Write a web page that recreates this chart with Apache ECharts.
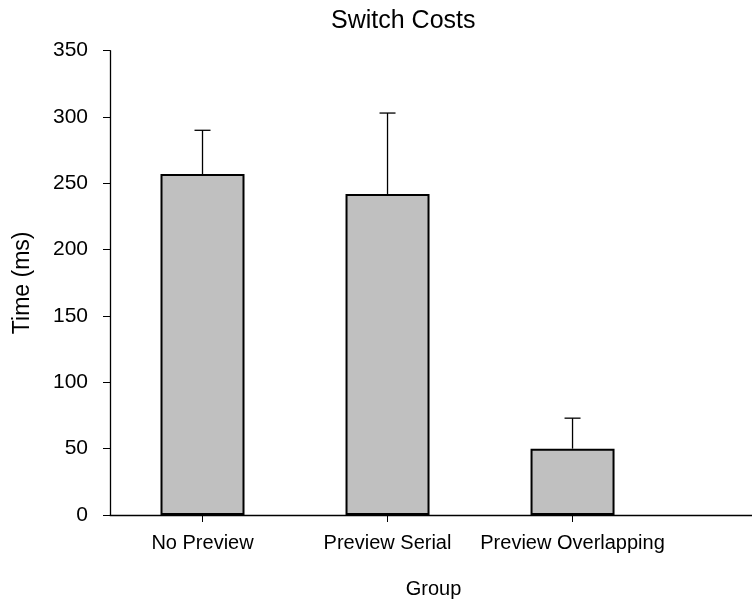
<!DOCTYPE html>
<html>
<head>
<meta charset="utf-8">
<script src="https://cdn.jsdelivr.net/npm/echarts@6/dist/echarts.min.js"></script>
<style>
html,body{margin:0;padding:0;background:#fff;}
#chart{width:752px;height:604px;}
</style>
</head>
<body>
<div id="chart"></div>
<script>
var categories = ['No Preview', 'Preview Serial', 'Preview Overlapping'];
var meanValues = [257, 242, 50];
var errorValues = [33, 61, 23];
var yTicks = [0, 50, 100, 150, 200, 250, 300, 350];

var positions = categories.map(function (c, i) { return i + 1; });
var barData = positions.map(function (p, i) { return [p, meanValues[i]]; });
var errData = positions.map(function (p, i) { return [p, meanValues[i], meanValues[i] + errorValues[i]]; });

var FONT = '"Liberation Sans", Arial, sans-serif';
var chart = echarts.init(document.getElementById('chart'), null, {renderer: 'canvas'});
chart.setOption({
  backgroundColor: '#ffffff',
  animation: false,
  title: {
    text: 'Switch Costs',
    left: 326,
    top: 4,
    textStyle: {fontFamily: FONT, fontSize: 25, fontWeight: 'normal', color: '#000'}
  },
  grid: {left: 110, right: 0, top: 50.7, bottom: 87.3, containLabel: false},
  xAxis: {
    type: 'value',
    min: 0.5,
    max: 3.97,
    name: 'Group',
    nameLocation: 'middle',
    nameGap: 64,
    nameTextStyle: {fontFamily: FONT, fontSize: 20, color: '#000', padding: [0, 0, 0, 5]},
    splitLine: {show: false},
    axisLine: {show: true, onZero: false, lineStyle: {color: '#000', width: 1.3}},
    axisTick: {show: true, inside: false, length: 7, customValues: positions, lineStyle: {color: '#000', width: 1}},
    axisLabel: {
      customValues: positions,
      margin: 18,
      fontFamily: FONT, fontSize: 20, color: '#000',
      formatter: function (v) { return categories[Math.round(v) - 1] || ''; }
    }
  },
  yAxis: {
    type: 'value',
    min: 0,
    max: 350,
    interval: 50,
    name: 'Time (ms)',
    nameLocation: 'middle',
    nameGap: 76,
    nameTextStyle: {fontFamily: FONT, fontSize: 23, color: '#000'},
    splitLine: {show: false},
    axisLine: {show: true, lineStyle: {color: '#000', width: 1.3}},
    axisTick: {show: true, inside: false, length: 7, lineStyle: {color: '#000', width: 1}},
    axisLabel: {
      margin: 22,
      fontFamily: FONT, fontSize: 21, color: '#000',
      customValues: yTicks
    }
  },
  series: [
    {
      type: 'bar',
      data: barData,
      barWidth: 84,
      itemStyle: {color: '#c0c0c0', borderColor: '#000', borderWidth: 2},
      z: 2
    },
    {
      type: 'custom',
      data: errData,
      z: 3,
      renderItem: function (params, api) {
        var x = api.value(0);
        var base = api.coord([x, api.value(1)]);
        var top = api.coord([x, api.value(2)]);
        var half = 8;
        var style = {stroke: '#000', lineWidth: 1.3};
        return {
          type: 'group',
          children: [
            {type: 'line', shape: {x1: base[0], y1: base[1], x2: top[0], y2: top[1]}, style: style},
            {type: 'line', shape: {x1: top[0] - half, y1: top[1], x2: top[0] + half, y2: top[1]}, style: style}
          ]
        };
      }
    }
  ]
});
</script>
</body>
</html>
